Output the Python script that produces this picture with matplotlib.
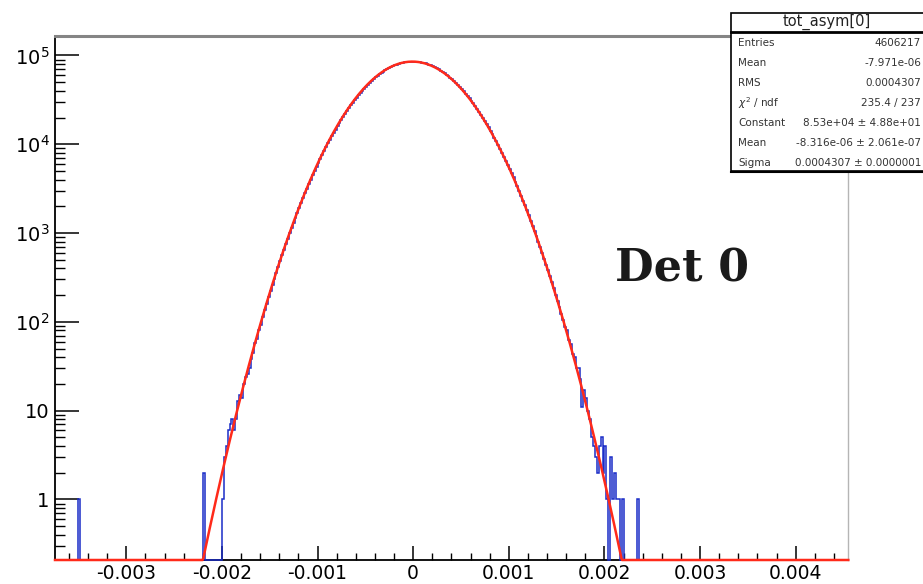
import numpy as np
import matplotlib
matplotlib.use("Agg")
import matplotlib.pyplot as plt
from matplotlib.patches import Rectangle
from matplotlib.lines import Line2D
from matplotlib.ticker import FixedLocator, MultipleLocator, FuncFormatter, NullFormatter

plt.rcParams['font.family'] = ['DejaVu Sans']
plt.rcParams['axes.unicode_minus'] = False

### histogram tot_asym[0], bins of 2e-5
bin_width = 2e-5
hist_lo = -0.00374
hist_hi = 0.00456

# populated core, starting at core_lo (negative side, then positive side)
core_lo = -0.0022
core_neg = [2, 0, 0, 0, 0, 0, 0, 0, 0, 0,
            1, 3, 4, 6, 7, 8, 6, 8, 13, 15,
            14, 20, 24, 26, 30, 38, 45, 58, 64, 80,
            92, 114, 135, 160, 190, 222, 262, 305, 358, 416,
            484, 561, 648, 748, 864, 991, 1138, 1302, 1487, 1695,
            1928, 2183, 2473, 2795, 3150, 3545, 3979, 4455, 4980, 5555,
            6180, 6860, 7600, 8400, 9270, 10210, 11210, 12280, 13420, 14660,
            15960, 17350, 18800, 20360, 21980, 23700, 25480, 27350, 29310, 31320,
            33400, 35540, 37740, 40000, 42300, 44640, 47000, 49400, 51800, 54200,
            56590, 58980, 61300, 63600, 65830, 68000, 70090, 72080, 73970, 75750,
            77400, 78920, 80290, 81510, 82570, 83470, 84190, 84730, 85100, 85290]
core_pos = [85260, 85050, 84660, 84090, 83340, 82420, 81340, 80090, 78690, 77140,
            75460, 73660, 71740, 69730, 67620, 65440, 63190, 60890, 58550, 56170,
            53780, 51370, 48960, 46570, 44200, 41860, 39560, 37300, 35090, 32950,
            30860, 28850, 26900, 25030, 23240, 21540, 19910, 18360, 16910, 15530,
            14230, 13020, 11880, 10820, 9830, 8910, 8060, 7280, 6560, 5900,
            5290, 4730, 4230, 3770, 3350, 2975, 2635, 2325, 2050, 1805,
            1580, 1385, 1210, 1055, 918, 795, 690, 596, 514, 441,
            380, 325, 278, 238, 202, 172, 146, 124, 104, 88,
            80, 62, 57, 44, 40, 30, 30, 23, 11, 17,
            14, 10, 8, 5, 4, 3, 2, 4, 5, 2,
            4, 1, 0, 3, 1, 2, 1, 1, 0, 1,
            0, 0, 0, 0, 0, 0, 0, 1]

# isolated entries far out in the tail
outlier_lo = [-0.00350]
outlier_counts = [1]

# gaus fit
fit_constant = 8.53e4
fit_mean = -8.316e-06
fit_sigma = 0.0004307

stats_title = "tot_asym[0]"
stats_labels = ["Entries", "Mean", "RMS", r"$\chi^2$ / ndf", "Constant", "Mean", "Sigma"]
stats_values = ["4606217", "-7.971e-06", "0.0004307", "235.4 / 237",
                "8.53e+04 \u00b1 4.88e+01", "-8.316e-06 \u00b1 2.061e-07",
                "0.0004307 \u00b1 0.0000001"]

x_major = [-0.003, -0.002, -0.001, 0, 0.001, 0.002, 0.003, 0.004]
x_labels = ["-0.003", "-0.002", "-0.001", "0", "0.001", "0.002", "0.003", "0.004"]
y_major = [1, 10, 1e2, 1e3, 1e4, 1e5]

xlim = (-0.003745, 0.00455)
ylim = (0.208, 1.67e5)

blue = '#1a2cc8'
red = '#ff2a1a'

### build histogram
n_bins = int(round((hist_hi - hist_lo) / bin_width))
edges = hist_lo + np.arange(n_bins + 1) * bin_width
counts = np.zeros(n_bins)
core = core_neg + core_pos
i0 = int(round((core_lo - hist_lo) / bin_width))
counts[i0:i0 + len(core)] = core
for lo, c in zip(outlier_lo, outlier_counts):
    counts[int(round((lo - hist_lo) / bin_width))] = c

W, H = 923, 584
fig = plt.figure(figsize=(W / 100, H / 100), dpi=100)
ax = fig.add_axes([55 / W, 1 - 560 / H, (848.3 - 55) / W, (560 - 35.7) / H])

ax.stairs(np.clip(counts, ylim[0], None), edges, baseline=None,
          color=blue, lw=1.1, zorder=3, clip_on=False)

xf = np.linspace(xlim[0], xlim[1], 1200)
yf = fit_constant * np.exp(-0.5 * ((xf - fit_mean) / fit_sigma) ** 2)
ax.plot(xf, np.clip(yf, ylim[0], None), color=red, lw=1.8, zorder=4, clip_on=False)

ax.set_yscale('log')
ax.set_xlim(*xlim)
ax.set_ylim(*ylim)

ax.xaxis.set_major_locator(FixedLocator(x_major))
ax.set_xticklabels(x_labels)
ax.xaxis.set_minor_locator(MultipleLocator(0.0002))

# minor log ticks 2..9 of each decade inside the view
y_minor = [m * 10.0 ** e for e in range(-1, 6) for m in range(2, 10)
           if ylim[0] <= m * 10.0 ** e <= ylim[1]]
ax.yaxis.set_major_locator(FixedLocator(y_major))
ax.yaxis.set_minor_locator(FixedLocator(y_minor))
ax.yaxis.set_minor_formatter(NullFormatter())


def ylab(v, pos):
    e = int(round(np.log10(v)))
    if e == 0:
        return "1"
    if e == 1:
        return "10"
    return r"$10^{%d}$" % e


ax.yaxis.set_major_formatter(FuncFormatter(ylab))

ax.tick_params(axis='x', which='major', direction='in', length=10, width=1.1,
               labelsize=13.5, pad=3, top=False)
ax.tick_params(axis='x', which='minor', direction='in', length=5, width=1.0, top=False)
ax.tick_params(axis='y', which='major', direction='in', length=17, width=1.1,
               labelsize=14, pad=4, right=False)
ax.tick_params(axis='y', which='minor', direction='in', length=7.5, width=1.0, right=False)

for s in ['left', 'bottom']:
    ax.spines[s].set_linewidth(1.3)
    ax.spines[s].set_color('black')
ax.spines['top'].set_linewidth(2.2)
ax.spines['top'].set_color('#858585')
ax.spines['right'].set_linewidth(1.0)
ax.spines['right'].set_color('#b5b5b5')

ax.text(0.79, 0.555, "Det 0", transform=ax.transAxes, ha='center', va='center',
        fontsize=32, fontweight='bold', family='DejaVu Serif', color='#1a1a1a')

### stats box
bx0, bx1 = 731, 925
by0, by1, bsep = 12.7, 170.7, 31.7
fig.add_artist(Rectangle((bx0 / W, 1 - by1 / H), (bx1 - bx0) / W, (by1 - by0) / H,
                         transform=fig.transFigure, facecolor='white',
                         edgecolor='black', lw=1.2, zorder=10))
fig.add_artist(Line2D([bx0 / W, bx1 / W], [1 - (by1 + 1.5) / H] * 2,
                      transform=fig.transFigure, color='black', lw=1.5, zorder=11))
fig.add_artist(Line2D([bx0 / W, bx1 / W], [1 - bsep / H] * 2,
                      transform=fig.transFigure, color='black', lw=2.0, zorder=11))
fig.text((bx0 + 96) / W, 1 - 22 / H, stats_title, ha='center', va='center',
         fontsize=10.5, color='#222222', zorder=12)
for i, (lab, val) in enumerate(zip(stats_labels, stats_values)):
    yy = 1 - (42.7 + 20 * i) / H
    fig.text(738 / W, yy, lab, ha='left', va='center', fontsize=7.5,
             color='#333333', zorder=12)
    fig.text(921 / W, yy, val, ha='right', va='center', fontsize=7.5,
             color='#333333', zorder=12)

fig.savefig("out.png", dpi=100)
